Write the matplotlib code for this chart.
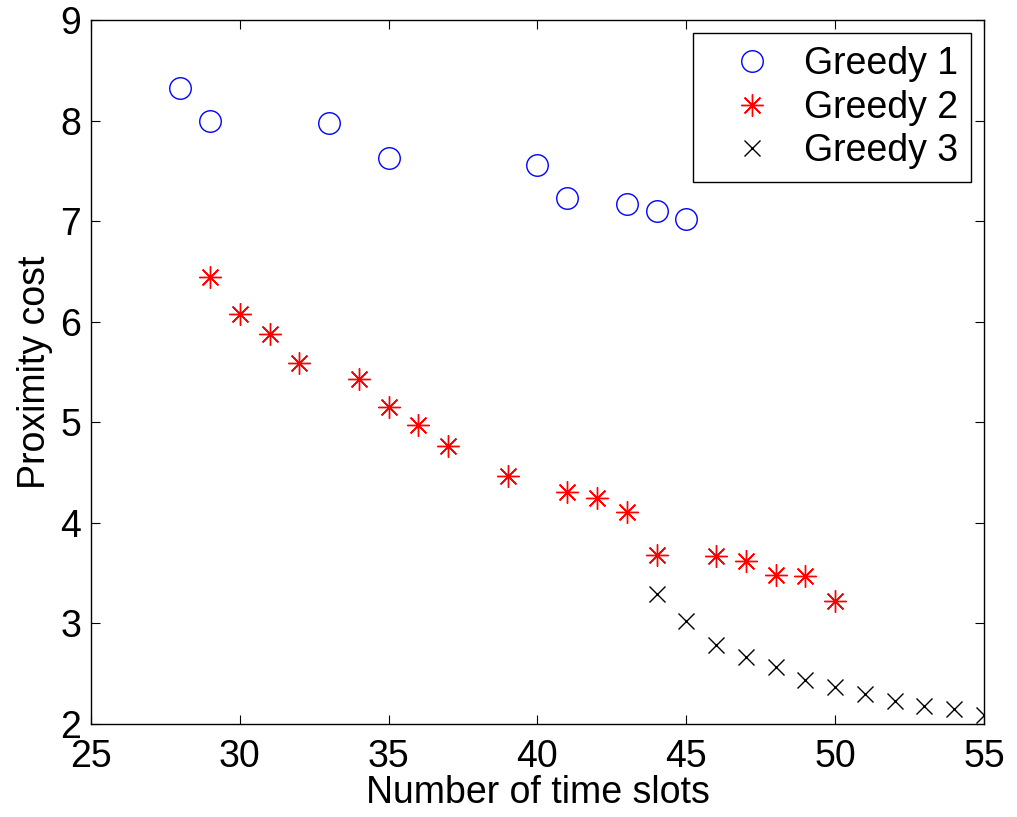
import matplotlib.pyplot as plt

plt.rcParams['font.family'] = ['Liberation Sans', 'DejaVu Sans']

# data
g1_x = [28, 29, 33, 35, 40, 41, 43, 44, 45]
g1_y = [8.32, 8.00, 7.98, 7.63, 7.56, 7.23, 7.17, 7.10, 7.02]

g2_x = [29, 30, 31, 32, 34, 35, 36, 37, 39, 41, 42, 43, 44, 46, 47, 48, 49, 50]
g2_y = [6.44, 6.08, 5.88, 5.59, 5.43, 5.15, 4.97, 4.76, 4.47, 4.31, 4.25, 4.11,
        3.68, 3.67, 3.62, 3.48, 3.47, 3.22]

g3_x = [44, 45, 46, 47, 48, 49, 50, 51, 52, 53, 54, 55]
g3_y = [3.29, 3.02, 2.79, 2.67, 2.57, 2.44, 2.37, 2.30, 2.23, 2.18, 2.15, 2.09]

xticks = [25, 30, 35, 40, 45, 50, 55]
yticks = [2, 3, 4, 5, 6, 7, 8, 9]

fig = plt.figure(figsize=(10.17, 8.17), dpi=100)
ax = fig.add_axes([91 / 1017, 1 - 724 / 817, (984 - 91) / 1017, (724 - 20) / 817])

ax.plot(g1_x, g1_y, linestyle='none', marker='o', markersize=15.5, mfc='none',
        mec='#0000ff', mew=1.0, label='Greedy 1')
ax.plot(g2_x, g2_y, linestyle='none', marker=(8, 2, 0), markersize=16,
        mec='#ff0000', mew=1.0, label='Greedy 2')
ax.plot(g3_x, g3_y, linestyle='none', marker='x', markersize=12,
        mec='black', mew=1.0, label='Greedy 3')

ax.set_xlim(25, 55)
ax.set_ylim(2, 9)
ax.set_xticks(xticks)
ax.set_yticks(yticks)
ax.tick_params(direction='in', length=6.5, width=0.8, labelsize=27,
               top=True, right=True)
ax.tick_params(axis='x', pad=11)
ax.tick_params(axis='y', pad=7)
for s in ax.spines.values():
    s.set_linewidth(1.0)

ax.set_xlabel('Number of time slots', fontsize=27, labelpad=0)
ax.set_ylabel('Proximity cost', fontsize=27, labelpad=5)

leg = ax.legend(loc='upper right', fontsize=27, frameon=True, fancybox=False,
                edgecolor='black', framealpha=1, borderaxespad=0.35,
                handletextpad=0.15, labelspacing=0.2, borderpad=0.35,
                handlelength=2.45)
leg.get_frame().set_linewidth(1.0)

fig.savefig('out.png', dpi=100)
